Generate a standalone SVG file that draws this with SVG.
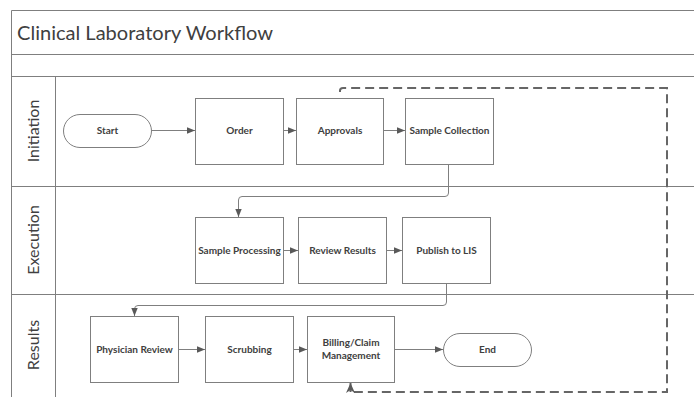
<svg xmlns="http://www.w3.org/2000/svg" width="694" height="397" viewBox="0 0 694 397">
<style>
.frame{fill:none;stroke:#7f7f7f;stroke-width:1}
.box{fill:#fff;stroke:#7f7f7f;stroke-width:1}
.lbl{font-family:Lato,"Liberation Sans",sans-serif;font-size:10px;font-weight:bold;fill:#404040;text-anchor:middle}
.lane{font-family:Lato,"Liberation Sans",sans-serif;font-size:16px;fill:#404040;text-anchor:middle}
.title{font-family:Lato,"Liberation Sans",sans-serif;font-size:20px;fill:#404040}
.conn{fill:none;stroke:#7f7f7f;stroke-width:1}
.dash{fill:none;stroke:#666;stroke-width:2;stroke-dasharray:9 5}
</style>
<defs>
<marker id="ah" viewBox="0 0 10 10" refX="10" refY="5" markerWidth="8" markerHeight="8" markerUnits="userSpaceOnUse" orient="auto">
<path d="M0,1 L10,5 L0,9 Z" fill="#595959"/>
</marker>
<marker id="ahd" viewBox="0 0 10 10" refX="10" refY="5" markerWidth="10" markerHeight="10" markerUnits="userSpaceOnUse" orient="auto">
<path d="M0,0.5 L10,5 L0,9.5 L3,5 Z" fill="#595959"/>
</marker>
</defs>
<rect width="694" height="397" fill="#fff"/>
<g id="frame">
<path class="frame" d="M694,10.5 H11.5 V397 M11.5,54.5 H694 M11.5,76.5 H694 M11.5,186.5 H694 M11.5,294.5 H694 M55.5,76.5 V397"/>
<text class="title" x="17" y="40" textLength="256" lengthAdjust="spacingAndGlyphs">Clinical Laboratory Workflow</text>
</g>
<g id="lanes">
<text class="lane" transform="translate(39,131) rotate(-90)">Initiation</text>
<text class="lane" transform="translate(39,240) rotate(-90)">Execution</text>
<text class="lane" transform="translate(39,345) rotate(-90)">Results</text>
</g>
<g id="connectors">
<path class="conn" marker-end="url(#ah)" d="M151,130.5 H195"/>
<path class="conn" marker-end="url(#ah)" d="M283,130.5 H296"/>
<path class="conn" marker-end="url(#ah)" d="M383,130.5 H405"/>
<path class="conn" marker-end="url(#ah)" d="M448.5,164 V193 Q448.5,196.5 445,196.5 H242 Q238.5,196.5 238.5,200 V217"/>
<path class="conn" marker-end="url(#ah)" d="M283,250.5 H298"/>
<path class="conn" marker-end="url(#ah)" d="M386,250.5 H402"/>
<path class="conn" marker-end="url(#ah)" d="M446.5,283 V302 Q446.5,305.5 443,305.5 H138 Q134.5,305.5 134.5,309 V316"/>
<path class="conn" marker-end="url(#ah)" d="M178,349.5 H205"/>
<path class="conn" marker-end="url(#ah)" d="M293,349.5 H307"/>
<path class="conn" marker-end="url(#ah)" d="M394,349.5 H443"/>
<path class="dash" d="M340,92 V90.5 Q340,88 343,88 H667 V392 H350.5"/>
<path fill="none" stroke="#666" stroke-width="2" marker-end="url(#ahd)" d="M350.5,392 V383"/>
</g>
<g id="start"><rect class="box" x="63.5" y="114.5" width="88" height="33" rx="16.5"/><text class="lbl" x="107.5" y="134">Start</text></g>
<g id="order"><rect class="box" x="195.5" y="98.5" width="88" height="66"/><text class="lbl" x="239.5" y="134">Order</text></g>
<g id="approvals"><rect class="box" x="296.5" y="98.5" width="87" height="66"/><text class="lbl" x="340" y="134">Approvals</text></g>
<g id="sample-collection"><rect class="box" x="405.5" y="98.5" width="88" height="66"/><text class="lbl" x="449.5" y="134">Sample Collection</text></g>
<g id="sample-processing"><rect class="box" x="195.5" y="217.5" width="88" height="66"/><text class="lbl" x="239.5" y="254">Sample Processing</text></g>
<g id="review-results"><rect class="box" x="298.5" y="217.5" width="88" height="66"/><text class="lbl" x="342.5" y="254">Review Results</text></g>
<g id="publish"><rect class="box" x="402.5" y="217.5" width="88" height="66"/><text class="lbl" x="446.5" y="254">Publish to LIS</text></g>
<g id="physician-review"><rect class="box" x="90.5" y="316.5" width="88" height="66"/><text class="lbl" x="134.5" y="353">Physician Review</text></g>
<g id="scrubbing"><rect class="box" x="205.5" y="316.5" width="88" height="66"/><text class="lbl" x="249.5" y="353">Scrubbing</text></g>
<g id="billing"><rect class="box" x="307.5" y="316.5" width="87" height="66"/><text class="lbl" x="351" y="346">Billing/Claim</text><text class="lbl" x="351" y="359">Management</text></g>
<g id="end"><rect class="box" x="443.5" y="333.5" width="88" height="33" rx="16.5"/><text class="lbl" x="487.5" y="353">End</text></g>
</svg>
